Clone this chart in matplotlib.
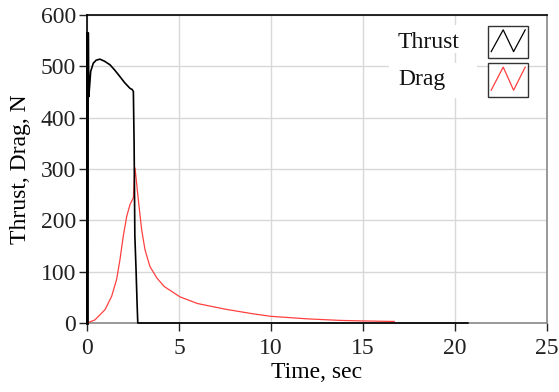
import matplotlib
matplotlib.use("Agg")
import matplotlib.pyplot as plt
from matplotlib.patches import Rectangle
from matplotlib.lines import Line2D

plt.rcParams['font.family'] = ['Liberation Serif', 'DejaVu Serif']

thrust_t = [0.0, 0.04, 0.07, 0.10, 0.14, 0.20, 0.34, 0.50, 0.70, 0.95, 1.25, 1.50, 1.79, 2.05, 2.34, 2.45, 2.52, 2.56, 2.60, 2.66, 2.72, 2.76, 20.7]
thrust_v = [0.0, 300, 565, 441, 461, 490, 506, 512, 514, 510, 503, 493, 480, 468, 457, 455, 451, 350, 170, 110, 40, 0, 0]

drag_t = [0.0, 0.43, 0.98, 1.34, 1.61, 1.79, 1.97, 2.16, 2.34, 2.52, 2.56, 2.61, 2.79, 2.97, 3.15, 3.42, 3.79, 4.2, 5.05, 6.0, 7.5, 9.0, 10.0, 12.0, 13.8, 15.0, 16.7]
drag_v = [0.0, 6, 26, 52, 85, 123, 169, 208, 231, 244, 273, 302, 240, 182, 143, 110, 88, 71, 51, 38, 27, 18, 13, 8, 5, 4, 3]

labels = ['Thrust', 'Drag']
colors = ['black', '#ff4040']

W, H = 559, 392
fig = plt.figure(figsize=(W / 100, H / 100), dpi=100)
ax = fig.add_axes([87 / W, 1 - 323 / H, 460 / W, 308 / H])

ax.plot(thrust_t, thrust_v, color=colors[0], lw=1.2, clip_on=False, zorder=4)
ax.plot(drag_t, drag_v, color=colors[1], lw=0.9, clip_on=False, zorder=3)
ax.plot([0, 0], [0, 565], color='black', lw=2.0, clip_on=False, zorder=4)

ax.set_xlim(0, 25)
ax.set_ylim(0, 600)
ax.set_xticks([0, 5, 10, 15, 20, 25])
ax.set_yticks([0, 100, 200, 300, 400, 500, 600])
ax.grid(True, color='#d8d8d8', lw=1.0)
ax.set_axisbelow(True)
for s in ['top', 'left']:
    ax.spines[s].set_color('black')
for s in ['right', 'bottom']:
    ax.spines[s].set_color('#888888')
for s in ax.spines.values():
    s.set_linewidth(1.2)
ax.tick_params(direction='out', length=6, width=1.0, labelsize=17, colors='#222222')
ax.tick_params(axis='x', pad=5)
ax.tick_params(axis='y', pad=2)
ax.set_xlabel('Time, sec', fontsize=17, labelpad=2)
ax.set_ylabel('Thrust, Drag, N', fontsize=17, labelpad=7)

# legend drawn manually (fig pixel coords)
def fx(px):
    return px / W

def fy(py):
    return 1 - py / H

box_rows = [(25, 53, 48, 26, 58), (63, 98, 85, 63, 97)]
for lab, col, (wb0, wb1, base, b0, b1) in zip(labels, colors, box_rows):
    fig.patches.append(Rectangle((fx(389), fy(wb1)), fx(477) - fx(389), fy(wb0) - fy(wb1),
                                 transform=fig.transFigure, facecolor='white', edgecolor='none', zorder=2))
    fig.text(fx(398), fy(base), lab, fontsize=17, va='baseline', ha='left', color='#111111', zorder=3)
    fig.patches.append(Rectangle((fx(488), fy(b1)), fx(528) - fx(488), fy(b0) - fy(b1),
                                 transform=fig.transFigure, facecolor='white', edgecolor='#333333', lw=1.0, zorder=3))
    xs = [fx(488 + 40 * f) for f in (0.08, 0.38, 0.64, 0.93)]
    hgt = b1 - b0
    ys = [fy(b1 - hgt * f) for f in (0.2, 0.88, 0.2, 0.88)]
    fig.lines.append(Line2D(xs, ys, transform=fig.transFigure, color=col, lw=0.9, zorder=4))

fig.savefig('out.png', dpi=100)
